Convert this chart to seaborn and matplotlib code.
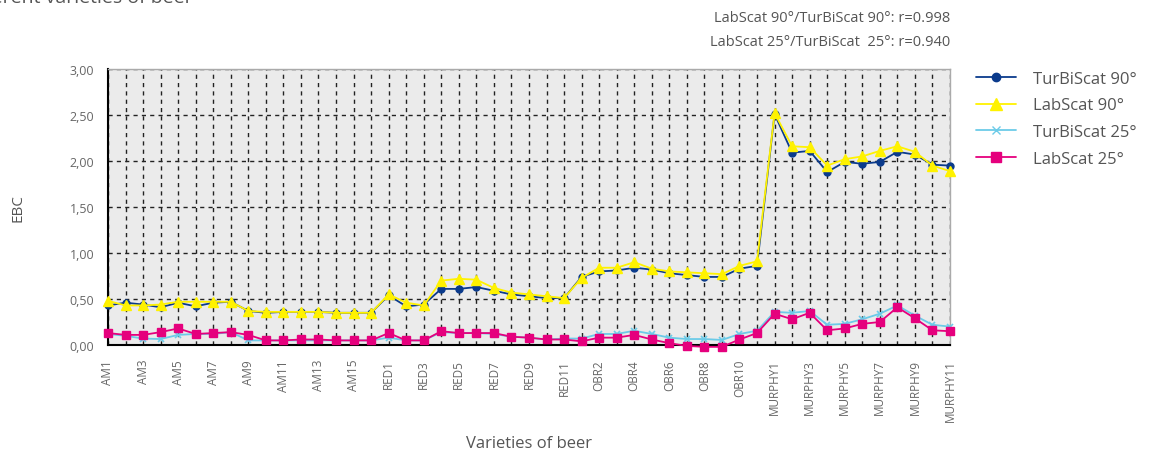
import numpy as np
import pandas as pd
import matplotlib.pyplot as plt
from matplotlib.lines import Line2D
import seaborn as sns

varieties = ([f'AM{i}' for i in range(1, 17)] + [f'RED{i}' for i in range(1, 12)]
             + [f'OBR{i}' for i in range(1, 12)] + [f'MURPHY{i}' for i in range(1, 12)])

turbiscat_90 = [0.43, 0.46, 0.44, 0.41, 0.46, 0.42, 0.46, 0.47, 0.37, 0.35, 0.36, 0.36, 0.36, 0.35, 0.35, 0.35,
                0.54, 0.42, 0.44, 0.61, 0.61, 0.63, 0.59, 0.55, 0.53, 0.51, 0.51,
                0.74, 0.80, 0.81, 0.84, 0.82, 0.78, 0.76, 0.74, 0.74, 0.83, 0.86,
                2.51, 2.09, 2.11, 1.88, 1.99, 1.97, 1.99, 2.10, 2.07, 1.96, 1.95]
labscat_90 = [0.48, 0.43, 0.43, 0.44, 0.47, 0.47, 0.47, 0.47, 0.37, 0.36, 0.36, 0.36, 0.36, 0.35, 0.35, 0.35,
              0.55, 0.46, 0.43, 0.70, 0.72, 0.71, 0.62, 0.57, 0.55, 0.53, 0.51,
              0.73, 0.84, 0.84, 0.90, 0.83, 0.80, 0.79, 0.78, 0.77, 0.86, 0.91,
              2.52, 2.16, 2.15, 1.95, 2.02, 2.05, 2.11, 2.16, 2.10, 1.95, 1.89]
turbiscat_25 = [0.12, 0.10, 0.07, 0.065, 0.11, 0.12, 0.12, 0.14, 0.05, 0.05, 0.05, 0.05, 0.05, 0.05, 0.05, 0.05,
                0.08, 0.05, 0.05, 0.14, 0.13, 0.13, 0.12, 0.09, 0.08, 0.06, 0.07,
                0.07, 0.12, 0.12, 0.155, 0.12, 0.08, 0.065, 0.065, 0.055, 0.12, 0.155,
                0.36, 0.35, 0.37, 0.22, 0.23, 0.28, 0.34, 0.43, 0.32, 0.22, 0.20]
labscat_25 = [0.13, 0.11, 0.11, 0.14, 0.18, 0.12, 0.13, 0.14, 0.11, 0.05, 0.05, 0.06, 0.06, 0.05, 0.05, 0.05,
              0.13, 0.05, 0.05, 0.15, 0.13, 0.13, 0.13, 0.09, 0.08, 0.06, 0.06,
              0.04, 0.08, 0.08, 0.11, 0.06, 0.02, -0.01, -0.02, -0.02, 0.06, 0.13,
              0.34, 0.28, 0.35, 0.16, 0.18, 0.23, 0.25, 0.41, 0.29, 0.16, 0.15]

series_names = ['TurBiScat 90°', 'LabScat 90°', 'TurBiScat 25°', 'LabScat 25°']
colors = ['#0b3b8c', '#fff200', '#6ccbe8', '#e5007d']
markers = ['o', '^', 'x', 's']
msizes = [5, 7, 5, 6]

sns.set_style('white')
plt.rcParams['font.family'] = ['Open Sans', 'DejaVu Sans']

text_gray = '#555555'
tick_gray = '#666666'
fig = plt.figure(figsize=(11.55, 4.56), dpi=100)
ax = fig.add_axes([0.0935, 0.2412, 0.729, 0.6053])
ax.set_facecolor('#ebebeb')

pos = np.arange(len(varieties))
values = [turbiscat_90, labscat_90, turbiscat_25, labscat_25]
draw_order = [3, 2, 1, 0]
for k in draw_order:
    sns.lineplot(x=pos, y=values[k], ax=ax, color=colors[k], marker=markers[k],
                 markersize=msizes[k], markeredgewidth=1.0 if markers[k] != 'x' else 1.2,
                 markeredgecolor=colors[k], linewidth=1.3, sort=False, clip_on=False,
                 zorder=3 + k * 0.1)

ax.set_xlim(0, len(varieties) - 1)
ax.set_ylim(0, 3)
ax.set_yticks(np.arange(0, 3.01, 0.5))
ax.set_yticklabels([f'{v:.2f}'.replace('.', ',') for v in np.arange(0, 3.01, 0.5)],
                   fontsize=9, color=tick_gray)
ax.set_xticks(pos)
ax.set_xticklabels([v if i % 2 == 0 else '' for i, v in enumerate(varieties)],
                   rotation=90, fontsize=8.5, color=tick_gray)
ax.tick_params(axis='x', direction='inout', length=6, width=1, color='black', pad=7)
ax.tick_params(axis='y', direction='out', length=4, width=1, color='black', pad=6)

ax.grid(True, linestyle=(0, (3, 3)), color='#222222', linewidth=1.0)
ax.set_axisbelow(True)
for s in ['left', 'bottom']:
    ax.spines[s].set_color('black')
    ax.spines[s].set_linewidth(1.5)
for s in ['top', 'right']:
    ax.spines[s].set_color('#aaaaaa')
    ax.spines[s].set_linewidth(1.0)

ax.set_ylabel('EBC', fontsize=11, color=text_gray)
ax.set_xlabel('Varieties of beer', fontsize=12, color=text_gray)
ax.yaxis.set_label_coords(-0.098, 0.5)
ax.xaxis.set_label_coords(0.5, -0.325)

handles = [Line2D([0], [0], color=colors[k], marker=markers[k], markersize=msizes[k] + 1,
                  markeredgecolor=colors[k], linewidth=1.3) for k in range(4)]
fig.legend(handles, series_names, loc='upper left', bbox_to_anchor=(0.832, 0.876),
           frameon=False, fontsize=12, labelcolor=text_gray, handlelength=2.4,
           handletextpad=1.0, labelspacing=0.65)

fig.text(950 / 1155, 1 - 18 / 456, 'LabScat 90°/TurBiScat 90°: r=0.998', ha='right',
         va='center', fontsize=10.5, color=text_gray)
fig.text(950 / 1155, 1 - 42 / 456, 'LabScat 25°/TurBiScat  25°: r=0.940', ha='right',
         va='center', fontsize=10.5, color=text_gray)
fig.text(193 / 1155, 1 - 3 / 456, 'Turbidity of different varieties of beer', ha='right',
         va='baseline', fontsize=14, color=text_gray)

fig.savefig('out.png', dpi=100)
